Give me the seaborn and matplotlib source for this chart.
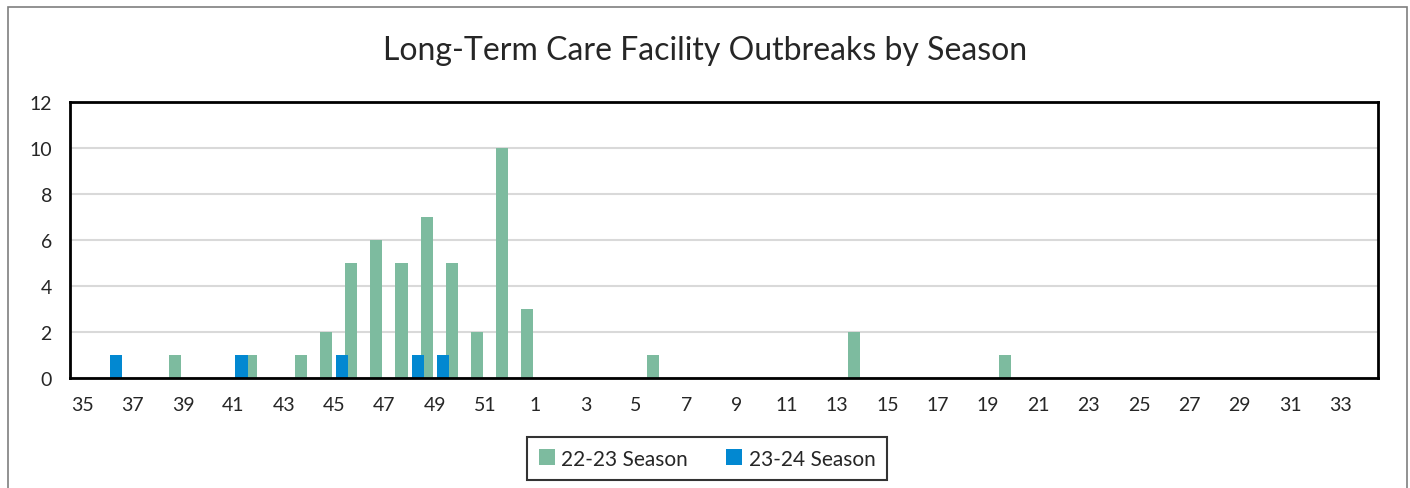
import matplotlib
matplotlib.use("Agg")
import matplotlib.pyplot as plt
import pandas as pd
import seaborn as sns
from matplotlib.patches import Rectangle

# week numbers of a flu season: 35..52 then 1..34
weeks = [str(w) for w in list(range(35, 53)) + list(range(1, 35))]

# 22-23 season outbreaks per week
season_2223 = [0, 0, 0, 0, 1, 0, 0, 1, 0, 1, 2, 5, 6, 5, 7, 5, 2, 10,
               3, 0, 0, 0, 0, 1, 0, 0, 0, 0, 0, 0, 0, 2, 0, 0, 0, 0, 0, 1,
               0, 0, 0, 0, 0, 0, 0, 0, 0, 0, 0, 0, 0, 0]
# 23-24 season outbreaks per week
season_2324 = [0, 1, 0, 0, 0, 0, 1, 0, 0, 0, 1, 0, 0, 1, 1, 0, 0, 0,
               0, 0, 0, 0, 0, 0, 0, 0, 0, 0, 0, 0, 0, 0, 0, 0, 0, 0, 0, 0,
               0, 0, 0, 0, 0, 0, 0, 0, 0, 0, 0, 0, 0, 0]

series_names = ["22-23 Season", "23-24 Season"]
colors = ["#7DBB9F", "#0288D1"]

df = pd.DataFrame({
    "week": weeks * 2,
    "count": season_2223 + season_2324,
    "season": [series_names[0]] * len(weeks) + [series_names[1]] * len(weeks),
})

sns.set_style("white")
plt.rcParams["font.family"] = ["Lato", "DejaVu Sans"]

fig = plt.figure(figsize=(14.1, 4.89), dpi=100)
ax = fig.add_axes([0.0496, 0.2249, 0.9277, 0.5645])

sns.barplot(data=df, x="week", y="count", hue="season", order=weeks,
            hue_order=series_names, palette=colors, width=1.28, gap=0.25,
            saturation=1, linewidth=0, ax=ax, legend=True)

ax.set_xlim(-0.5, len(weeks) - 0.5)
ax.set_ylim(0, 12)
ax.set_yticks(range(0, 13, 2))
ax.set_xticks(range(0, len(weeks), 2))
ax.set_xticklabels(weeks[::2])
ax.tick_params(axis="both", labelsize=14, length=0)
ax.tick_params(axis="x", pad=13)
ax.tick_params(axis="y", pad=13)
ax.set_xlabel("")
ax.set_ylabel("")
ax.yaxis.grid(True, color="#D9D9D9", linewidth=1.5)
ax.set_axisbelow(True)
for sp in ax.spines.values():
    sp.set_color("black")
    sp.set_linewidth(2)

handles, labels = ax.get_legend_handles_labels()
ax.get_legend().remove()
leg = fig.legend(handles, labels, loc="center", bbox_to_anchor=(0.5014, 0.06),
                 ncol=2, fontsize=15, frameon=True, fancybox=False,
                 edgecolor="black", handlelength=0.8, handleheight=0.8,
                 handletextpad=0.3, columnspacing=1.8, borderpad=0.55)
leg.get_frame().set_linewidth(1.5)

fig.text(0.5, 0.895, "Long-Term Care Facility Outbreaks by Season",
         ha="center", va="center", fontsize=23)

# outer chart border
fig.patches.append(Rectangle((0.006, -0.05), 0.992, 1.034, transform=fig.transFigure,
                             fill=False, edgecolor="#7F7F7F", linewidth=1.2))

fig.savefig("out.png", dpi=100)
